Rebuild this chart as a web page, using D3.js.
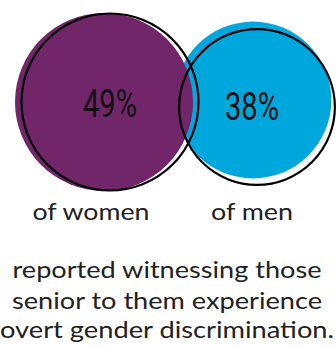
<!DOCTYPE html>
<html><head><meta charset="utf-8">
<script src="https://cdn.jsdelivr.net/npm/d3@7"></script>
<style>body{margin:0;background:#fff;} svg{display:block;}</style>
</head><body>
<script>
const categories = ["of women", "of men"];
const values = [49, 38];
const colors = ["#71266a", "#00a7dd"];
const caption = ["reported witnessing those", "senior to them experience", "overt gender discrimination."];

const W = 336, H = 347;
const svg = d3.select("body").append("svg").attr("width", W).attr("height", H);

const r = d3.scaleSqrt().domain([0, 49]).range([0, 89]);
const x = d3.scalePoint().domain(categories).range([104, 253]);
const fillDy = [102, 100];
const outDx = [6, 4], outDy = [0, 7];
const labelX = [91, 252], labelW = [117, 82];
const capY = [278, 309, 338], capW = [309, 310, 334];

const data = categories.map((c, i) => ({c, v: values[i], col: colors[i], i}));

svg.selectAll("circle.fill").data(data.slice().reverse()).join("circle")
  .attr("class", "fill")
  .attr("cx", d => x(d.c)).attr("cy", d => fillDy[d.i])
  .attr("r", d => r(d.v)).attr("fill", d => d.col);

svg.selectAll("circle.out").data(data).join("circle")
  .attr("class", "out")
  .attr("cx", d => x(d.c) + outDx[d.i]).attr("cy", d => fillDy[d.i] + outDy[d.i])
  .attr("r", d => r(d.v) - 0.5).attr("fill", "none")
  .attr("stroke", "#000").attr("stroke-width", 2.2);

svg.selectAll("text.val").data(data).join("text")
  .attr("class", "val")
  .attr("x", d => x(d.c) + (d.i === 0 ? 6 : -1))
  .attr("y", d => d.i === 0 ? 117 : 120)
  .attr("text-anchor", "middle")
  .attr("font-family", "Roboto, sans-serif")
  .attr("font-size", 38)
  .attr("textLength", 54).attr("lengthAdjust", "spacingAndGlyphs")
  .attr("fill", "#111")
  .text(d => d.v + "%");

svg.selectAll("text.cat").data(data).join("text")
  .attr("class", "cat")
  .attr("x", d => labelX[d.i]).attr("y", 220)
  .attr("text-anchor", "middle")
  .attr("font-family", "Lato, sans-serif")
  .attr("font-size", 24)
  .attr("textLength", d => labelW[d.i]).attr("lengthAdjust", "spacingAndGlyphs")
  .attr("fill", "#222")
  .text(d => d.c);

svg.selectAll("text.cap").data(caption).join("text")
  .attr("class", "cap")
  .attr("x", 167).attr("y", (d, i) => capY[i])
  .attr("text-anchor", "middle")
  .attr("font-family", "Lato, sans-serif")
  .attr("font-size", 24)
  .attr("textLength", (d, i) => capW[i]).attr("lengthAdjust", "spacingAndGlyphs")
  .attr("fill", "#222")
  .text(d => d);
</script>
</body></html>
